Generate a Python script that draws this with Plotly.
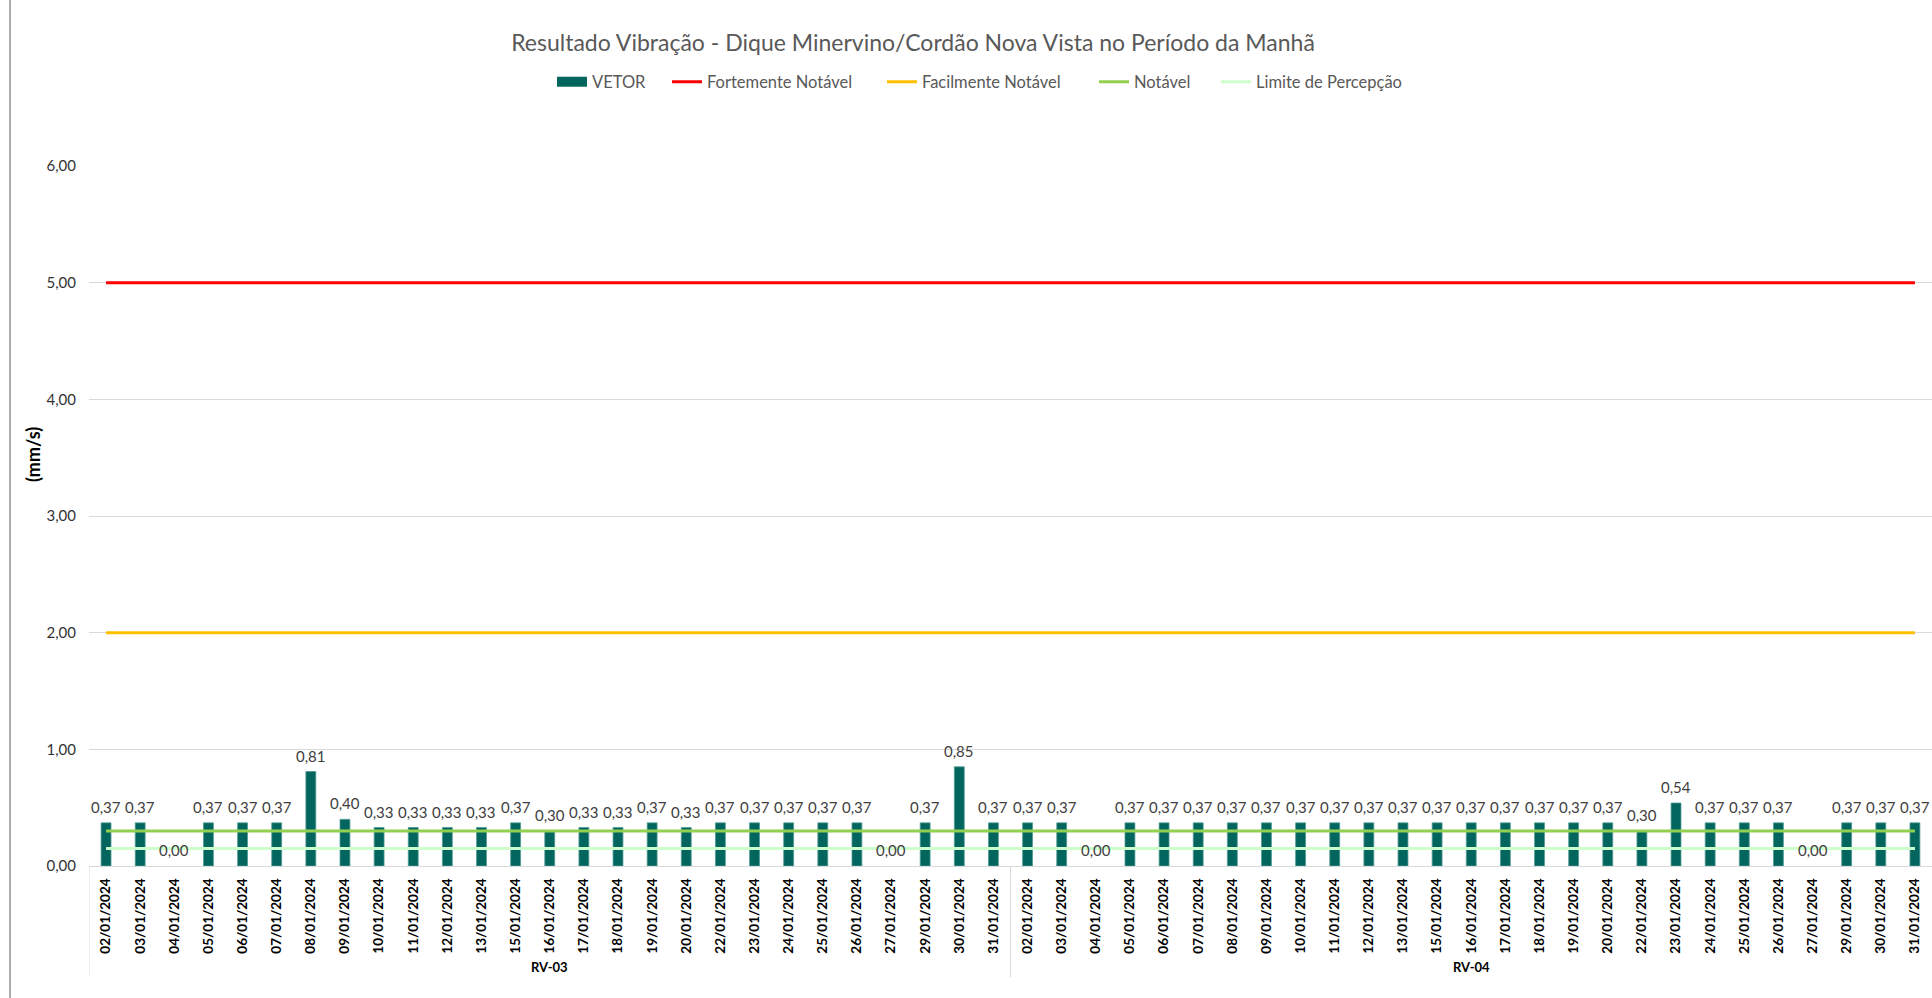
import plotly.graph_objects as go

# Measurement days (same calendar for both monitoring points)
dates = ["02/01/2024", "03/01/2024", "04/01/2024", "05/01/2024", "06/01/2024",
         "07/01/2024", "08/01/2024", "09/01/2024", "10/01/2024", "11/01/2024",
         "12/01/2024", "13/01/2024", "15/01/2024", "16/01/2024", "17/01/2024",
         "18/01/2024", "19/01/2024", "20/01/2024", "22/01/2024", "23/01/2024",
         "24/01/2024", "25/01/2024", "26/01/2024", "27/01/2024", "29/01/2024",
         "30/01/2024", "31/01/2024"]
groups = ["RV-03", "RV-04"]

# Resultant vibration vector (mm/s) per point
vetor_rv03 = [0.37, 0.37, 0.00, 0.37, 0.37, 0.37, 0.81, 0.40, 0.33, 0.33,
              0.33, 0.33, 0.37, 0.30, 0.33, 0.33, 0.37, 0.33, 0.37, 0.37,
              0.37, 0.37, 0.37, 0.00, 0.37, 0.85, 0.37]
vetor_rv04 = [0.37, 0.37, 0.00, 0.37, 0.37, 0.37, 0.37, 0.37, 0.37, 0.37,
              0.37, 0.37, 0.37, 0.37, 0.37, 0.37, 0.37, 0.37, 0.30, 0.54,
              0.37, 0.37, 0.37, 0.00, 0.37, 0.37, 0.37]

# Perception thresholds (mm/s)
fortemente_notavel = 5.0
facilmente_notavel = 2.0
notavel = 0.3
limite_percepcao = 0.15

y_ticks = [0, 1, 2, 3, 4, 5, 6]

FONT = "Lato"
W, H = 1932, 998
ML, MR, MT, MB = 89, 0, 166, 132
PW = W - ML - MR
PH = H - MT - MB

values = vetor_rv03 + vetor_rv04
tick_text = dates + dates
xpos = list(range(len(values)))
n = len(values)


def px_to_paper_x(px):
    return (px - ML) / PW


def px_to_paper_y(py):
    return (H - MB - py) / PH


fig = go.Figure()

fig.add_trace(go.Bar(
    x=xpos, y=values, width=0.29, name="VETOR", showlegend=False,
    marker=dict(color="#02665f",
                line=dict(color="#4f9a93",
                          width=[0.8 if v > 0 else 0 for v in values])),
    hoverinfo="y",
))

threshold_lines = [
    ("Fortemente Notável", fortemente_notavel, "#ff0000", "legend2"),
    ("Facilmente Notável", facilmente_notavel, "#ffc000", "legend3"),
    ("Notável", notavel, "#92d050", "legend4"),
    ("Limite de Percepção", limite_percepcao, "#ccffcc", "legend5"),
]
for name, val, color, leg in threshold_lines:
    fig.add_trace(go.Scatter(
        x=[xpos[0], xpos[-1]], y=[val, val], mode="lines", name=name,
        line=dict(color=color, width=3), legend=leg,
    ))

# legend swatch for the bar series
fig.add_trace(go.Scatter(
    x=[None], y=[None], mode="lines", name="VETOR",
    line=dict(color="#02665f", width=10), legend="legend",
))

# value labels above each bar
for i, v in enumerate(values):
    fig.add_annotation(
        x=i, y=v, yshift=16, showarrow=False, yanchor="middle",
        text=f"{v:.2f}".replace(".", ","),
        font=dict(family=FONT, size=15, color="#404040"),
    )

# group labels and dividers of the category axis
gsize = len(dates)
for g, label in enumerate(groups):
    fig.add_annotation(
        x=g * gsize + (gsize - 1) / 2, y=px_to_paper_y(967), yref="paper",
        xanchor="center", yanchor="middle",
        showarrow=False, text=f"<b>{label}</b>",
        font=dict(family=FONT, size=13, color="#000000"),
    )
for xd in [-0.5, gsize - 0.5]:
    fig.add_shape(type="line", x0=xd, x1=xd, xref="x", yref="paper",
                  y0=0, y1=px_to_paper_y(977),
                  line=dict(color="#d9d9d9", width=1))

# left border of the chart area
fig.add_shape(type="line", xref="paper", yref="paper",
              x0=px_to_paper_x(10), x1=px_to_paper_x(10),
              y0=px_to_paper_y(0), y1=px_to_paper_y(H),
              line=dict(color="#595959", width=1))

# axis title
fig.add_annotation(
    x=px_to_paper_x(33), y=px_to_paper_y(455), xref="paper", yref="paper",
    xanchor="center", yanchor="middle",
    showarrow=False, text="<b>(mm/s)</b>", textangle=-90,
    font=dict(family=FONT, size=18, color="#000000"),
)

legend_starts = [552, 667, 882, 1094, 1216]
leg_common = dict(orientation="h", xref="container", yref="container",
                  yanchor="middle", xanchor="left", bgcolor="rgba(0,0,0,0)",
                  font=dict(family=FONT, size=16.5, color="#595959"))
legends = {}
for k, xs in enumerate(legend_starts):
    key = "legend" if k == 0 else f"legend{k + 1}"
    legends[key] = dict(leg_common, x=xs / W, y=1 - 82 / H)

fig.update_layout(
    width=W, height=H,
    margin=dict(l=ML, r=MR, t=MT, b=MB, pad=0),
    paper_bgcolor="white", plot_bgcolor="white",
    separators=", ",
    font=dict(family=FONT, color="#404040"),
    title=dict(
        text="Resultado Vibração - Dique Minervino/Cordão Nova Vista no Período da Manhã",
        x=913 / W, xanchor="center", y=1 - 43 / H, yanchor="middle",
        xref="container", yref="container",
        font=dict(family=FONT, size=23, color="#595959"),
    ),
    xaxis=dict(
        range=[-0.5, n - 0.5], tickmode="array", tickvals=xpos,
        ticktext=[f"<b>{t}</b>" for t in tick_text], tickangle=-90,
        tickfont=dict(family=FONT, size=13.5, color="#000000"),
        showgrid=False, zeroline=False, showline=True,
        linecolor="#d9d9d9", linewidth=1, ticks="", ticklabelstandoff=6,
    ),
    yaxis=dict(
        range=[0, 6], tickmode="array", tickvals=y_ticks, tickformat=".2f",
        tickfont=dict(family=FONT, size=15, color="#333333"),
        showgrid=True, gridcolor="#d9d9d9", gridwidth=1,
        zeroline=False, showline=False, ticks="", ticklabelstandoff=12,
    ),
    showlegend=True,
    **legends,
)

fig.write_html("out.html")
